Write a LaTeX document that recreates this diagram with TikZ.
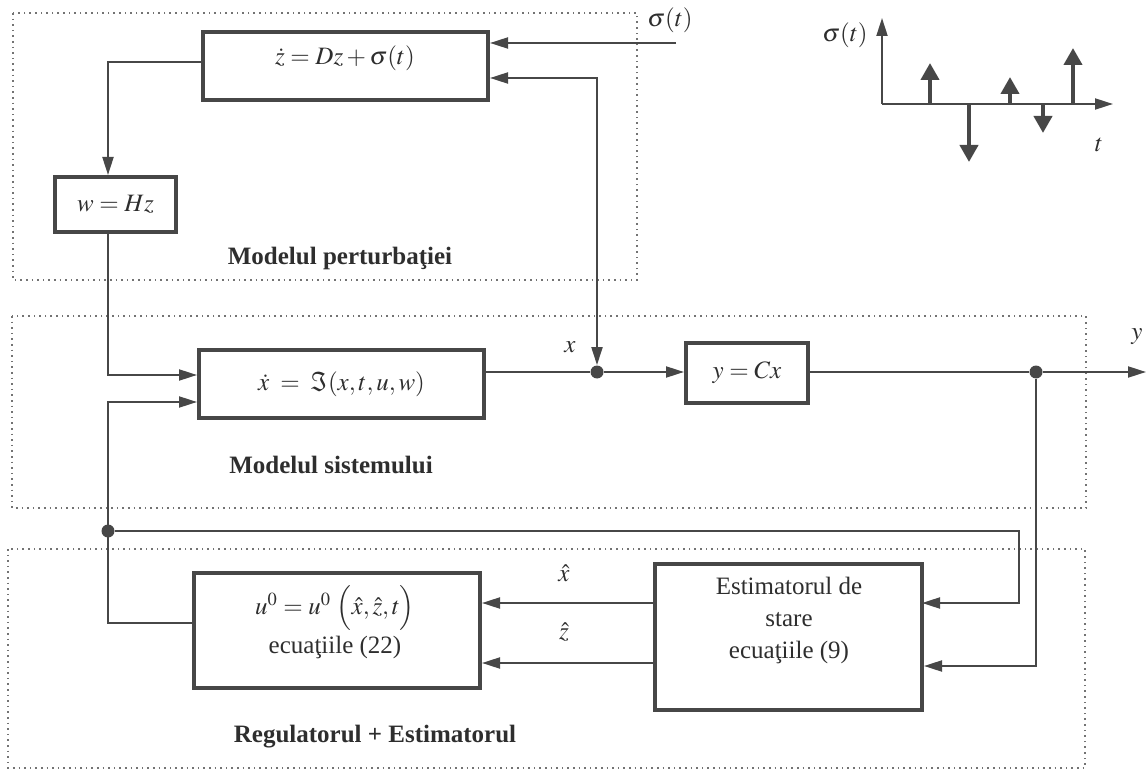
\documentclass[tikz,border=0pt]{standalone}
\usepackage{mathptmx}
\usepackage{fontspec}
\setmainfont{Liberation Serif}
\usetikzlibrary{arrows.meta}
\colorlet{ink}{black!72}

\begin{document}
\begin{tikzpicture}
[x=0.5pt,y=-0.5pt,
 blk/.style={draw=ink,line width=2pt,inner sep=0pt},
 con/.style={draw=ink,line width=1pt},
 arr/.style={con,-{Triangle[length=9pt,width=5.5pt]}},
 imp/.style={draw=ink,line width=2pt,-{Triangle[length=8.5pt,width=9pt]}},
 zone/.style={draw=black!55,dotted,line width=0.8pt},
 dot/.style={circle,fill=ink,inner sep=0pt,minimum size=6.5pt},
 ttl/.style={font=\fontsize{12.5}{15}\selectfont\bfseries},
 every node/.style={text=black!82,font=\fontsize{12.5}{15}\selectfont}]
\useasboundingbox (0,0) rectangle (1146,770);

% the three dotted zones
\draw[zone] (13,13) rectangle (637,280);
\draw[zone] (12,316) rectangle (1086,508);
\draw[zone] (8,549) rectangle (1085,768);

\node[ttl] (lpert) at (340,258) {Modelul perturbaţiei};
\node[ttl] (lsist) at (331,465) {Modelul sistemului};
\node[ttl] (lreg) at (375,737) {Regulatorul + Estimatorul};

% blocks
\node[blk,minimum width=142.5pt,minimum height=34pt] (zblk) at (345.5,66) {};
\node (ztxt) at (345,58) {$\dot z = Dz + \sigma(t)$};
\node[blk,minimum width=60.5pt,minimum height=27.5pt] (wblk) at (115.5,204.5) {$w = Hz$};
\node[blk,minimum width=142.5pt,minimum height=34pt] (xblk) at (341.5,384) {$\dot x \;=\; \Im(x,t,u,w)$};
\node[blk,minimum width=61pt,minimum height=30pt] (yblk) at (747,373) {$y = Cx$};
\node[blk,minimum width=143pt,minimum height=57.5pt] (ublk) at (337,630.5) {};
\node[align=center,font=\fontsize{12.5}{19.5}\selectfont] (utxt) at (335,622) {$u^0 = u^0\;\Bigl(\hat x, \hat z, t\Bigr)$\\ecuaţiile (22)};
\node[blk,minimum width=133.5pt,minimum height=73pt] (estim) at (788.5,637) {};
\node[align=center,font=\fontsize{12.5}{16}\selectfont] (etxt) at (789,620) {Estimatorul de\\stare\\ecuaţiile (9)};

% branch points
\node[dot] (xdot) at (597,372) {};
\node[dot] (ydot) at (1036,372) {};
\node[dot] (udot) at (108,531) {};

\coordinate (sig) at (676,43);
\coordinate (zin) at (597,78);
\coordinate (zout) at (108,62);
\coordinate (win) at (108,375);
\coordinate (uin) at (108,402);
\coordinate (uout) at (108,623);
\coordinate (fb) at (1019,531);
\coordinate (xh) at (922,603);
\coordinate (zh) at (922,663);
\coordinate (ydn) at (1036,666);
\coordinate (yend) at (1146,372);

% signal labels
\node (lsig) at (670,20) {$\sigma(t)$};
\node (lx) at (570,347) {$x$};
\node (ly) at (1137,337) {$y$};
\node (lxh) at (564,573) {$\hat x$};
\node (lzh) at (564,632) {$\hat z$};

% connections
\draw[arr] (sig) -- (sig -| zblk.east);
\draw[con,{Triangle[length=9pt,width=5.5pt]}-{Triangle[length=9pt,width=5.5pt]}] (xdot) -- (zin) -- (zin -| zblk.east);
\draw[arr] (zblk.west |- zout) -- (zout) -- (zout |- wblk.north);
\draw[arr] (wblk.south -| zout) -- (win) -- (win -| xblk.west);
\draw[arr] (ublk.west |- uout) -- (uout) -- (uin) -- (uin -| xblk.west);
\draw[arr] (udot) -- (fb) -- (fb |- xh) -- (xh);
\draw[con] (xblk.east |- xdot) -- (xdot);
\draw[arr] (xdot) -- (yblk.west |- xdot);
\draw[con] (yblk.east |- ydot) -- (ydot);
\draw[arr] (ydot) -- (yend);
\draw[arr] (ydot) -- (ydn) -- (ydn -| estim.east);
\foreach \s in {xh,zh}
\draw[arr] (estim.west |- \s) -- (ublk.east |- \s);

% impulse train sketch
\coordinate (orig) at (882,104);
\draw[arr] (orig) -- (882,18);
\draw[arr] (orig) -- (1113,104);
\node (lsg) at (845,35) {$\sigma(t)$};
\node (lt) at (1099,145) {$t$};
\foreach \t/\h in {930/63,969/162,1010/77,1043/133,1073/48}
\draw[imp] (\t,104) -- (\t,\h);
\end{tikzpicture}
\end{document}
